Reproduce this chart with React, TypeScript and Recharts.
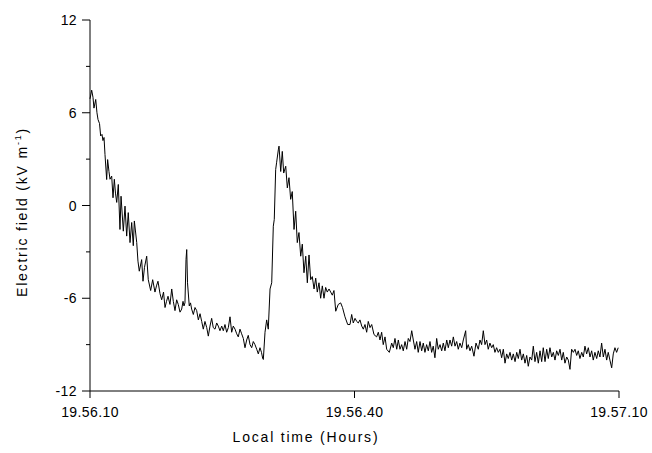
import React from 'react';
import { LineChart, Line, XAxis, YAxis } from 'recharts';

// Seconds after 19.56.10 local time
const seconds = [
  0, 0.19, 0.34, 0.45, 0.65, 0.79, 0.91, 1.08, 1.21, 1.36, 1.47, 1.59, 1.7, 1.89, 2.0, 2.15, 2.27, 2.46, 2.61, 2.76,
  2.89, 3.03, 3.21, 3.4, 3.52, 3.78, 3.97, 4.16, 4.34, 4.54, 4.73, 4.91, 5.03, 5.3, 5.44, 5.59, 5.86, 6.01, 6.18, 6.43,
  6.61, 6.88, 7.11, 7.37, 7.54, 7.71, 7.94, 8.13, 8.34, 8.51, 8.68, 8.85, 9.07, 9.27, 9.45, 9.64, 9.83, 10.01, 10.21, 10.4,
  10.55, 10.66, 10.77, 10.89, 10.97, 11.06, 11.26, 11.4, 11.53, 11.72, 11.91, 12.1, 12.29, 12.48, 12.67, 12.85, 13.04, 13.24, 13.42, 13.61,
  13.8, 13.98, 14.18, 14.37, 14.55, 14.74, 14.94, 15.12, 15.31, 15.5, 15.69, 15.88, 16.07, 16.25, 16.45, 16.64, 16.82, 17.01, 17.2, 17.39,
  17.58, 17.77, 17.95, 18.15, 18.34, 18.52, 18.71, 18.91, 19.09, 19.28, 19.45, 19.59, 19.66, 19.85, 20.04, 20.22, 20.42, 20.61, 20.79, 20.9,
  21.06, 21.17, 21.36, 21.44, 21.63, 21.81, 21.97, 22.2, 22.38, 22.57, 22.76, 22.94, 23.14, 23.33, 23.51, 23.7, 23.9, 24.08, 24.27, 24.47,
  24.65, 24.84, 25.03, 25.21, 25.41, 25.6, 25.78, 25.97, 26.16, 26.35, 26.54, 26.73, 26.91, 27.11, 27.3, 27.48, 27.67, 27.87, 28.16, 28.43,
  28.64, 28.92, 29.23, 29.49, 29.68, 29.86, 30.06, 30.25, 30.43, 30.62, 30.82, 31.0, 31.19, 31.38, 31.56, 31.76, 31.95, 32.21, 32.51, 32.7,
  32.89, 33.08, 33.26, 33.46, 33.65, 33.95, 34.22, 34.4, 34.59, 34.79, 34.97, 35.16, 35.35, 35.53, 35.73, 35.92, 36.1, 36.29, 36.49, 36.67,
  36.86, 37.05, 37.23, 37.43, 37.62, 37.8, 37.99, 38.18, 38.37, 38.56, 38.75, 38.93, 39.12, 39.32, 39.5, 39.7, 39.89, 40.07, 40.26, 40.46,
  40.64, 40.83, 41.02, 41.21, 41.4, 41.59, 41.77, 41.96, 42.16, 42.34, 42.61, 42.72, 42.9, 43.1, 43.29, 43.55, 43.78, 44.04, 44.23, 44.42,
  44.61, 44.8, 44.99, 45.17, 45.36, 45.56, 45.74, 45.93, 46.12, 46.31, 46.5, 46.69, 46.88, 47.07, 47.26, 47.44, 47.64, 47.83, 48.01, 48.21,
  48.4, 48.58, 48.77, 48.96, 49.15, 49.34, 49.53, 49.71, 49.9, 50.1, 50.28, 50.47, 50.66, 50.85, 51.04, 51.23, 51.41, 51.61, 51.8, 51.98,
  52.17, 52.37, 52.55, 52.74, 52.93, 53.12, 53.31, 53.5, 53.68, 53.87, 54.07, 54.25, 54.44, 54.63, 54.82, 55.01, 55.2, 55.38, 55.57, 55.77,
  55.95, 56.14, 56.33, 56.52, 56.71, 56.9, 57.08, 57.27, 57.47, 57.65, 57.84, 58.03, 58.22, 58.41, 58.6, 58.78, 58.97, 59.17, 59.35, 59.54,
  59.73, 59.91,
];

// Electric field, kV/m
const field = [
  6.9, 7.46, 7.0, 6.3, 6.86, 6.0, 5.56, 5.3, 4.5, 4.6, 4.2, 4.4, 3.3, 1.68, 2.97, 2.2, 1.7, 1.9, 0.5, 1.7,
  0.8, 0.2, 1.36, -1.55, 0.6, -1.66, -0.04, -1.98, -0.46, -2.4, -1.1, -2.6, -1.0, -2.4, -3.6, -4.25, -3.5, -4.9, -4.0, -3.28,
  -4.8, -5.5, -4.8, -5.6, -5.2, -4.9, -5.7, -6.1, -5.6, -6.6, -6.2, -5.87, -6.4, -5.4, -6.2, -6.8, -6.1, -6.4, -6.9, -6.7,
  -6.2, -6.5, -6.3, -3.5, -2.85, -5.0, -6.5, -6.3, -6.7, -7.05, -6.6, -6.8, -7.4, -7.0, -7.5, -8.0, -7.5, -7.9, -8.45, -7.8,
  -7.3, -7.9, -8.0, -7.6, -7.8, -8.1, -7.8, -8.1, -7.7, -8.2, -7.9, -7.2, -8.2, -7.8, -8.0, -8.3, -8.5, -8.0, -8.3, -8.6,
  -9.2, -8.7, -8.4, -9.0, -9.2, -8.8, -9.0, -9.3, -9.6, -9.2, -9.5, -9.9, -9.96, -8.2, -7.4, -8.0, -5.4, -5.0, -1.34, -0.9,
  2.33, 2.8, 3.6, 3.84, 2.2, 3.5, 2.1, 2.54, 1.14, 1.8, 0.4, 0.9, -1.55, -0.37, -2.4, -1.75, -3.28, -2.5, -4.35, -3.28,
  -5.0, -3.2, -4.8, -4.6, -5.4, -4.7, -5.6, -5.0, -6.0, -5.2, -6.0, -5.3, -5.6, -5.4, -5.6, -5.8, -5.5, -6.84, -6.4, -6.3,
  -6.6, -7.2, -7.7, -7.7, -7.05, -7.6, -7.3, -7.5, -7.6, -7.4, -7.8, -8.0, -7.7, -8.2, -7.5, -7.9, -7.7, -8.35, -8.5, -8.2,
  -8.7, -8.2, -9.0, -8.5, -9.3, -9.5, -8.9, -9.2, -8.6, -9.3, -8.7, -9.3, -9.0, -9.4, -8.8, -9.3, -8.6, -8.8, -8.1, -8.7,
  -9.3, -8.8, -9.5, -8.8, -9.4, -8.9, -9.5, -9.0, -9.4, -8.8, -9.5, -9.1, -9.85, -8.6, -9.3, -9.0, -9.4, -8.9, -9.4, -8.7,
  -9.2, -8.7, -9.1, -8.5, -9.1, -8.8, -9.3, -8.9, -9.2, -8.7, -8.1, -9.3, -9.0, -9.4, -9.1, -9.75, -8.9, -9.3, -8.7, -9.0,
  -8.1, -9.0, -8.7, -9.3, -8.9, -9.2, -9.0, -9.5, -9.2, -9.5, -9.3, -9.85, -9.3, -10.2, -9.6, -9.9, -9.5, -10.0, -9.6, -10.1,
  -9.5, -9.9, -9.3, -10.0, -9.6, -10.2, -9.7, -10.4, -9.8, -10.0, -9.1, -10.1, -9.5, -10.2, -9.4, -10.1, -9.2, -10.1, -9.3, -9.9,
  -9.2, -9.8, -9.5, -10.0, -9.4, -9.7, -9.3, -10.0, -9.5, -10.2, -9.8, -10.0, -10.6, -9.3, -9.5, -9.3, -9.7, -9.4, -9.9, -9.5,
  -9.8, -9.1, -9.6, -9.2, -9.8, -9.4, -10.0, -9.5, -9.9, -9.4, -9.8, -8.9, -9.8, -9.3, -10.0, -9.5, -10.0, -10.5, -9.6, -9.2,
  -9.5, -9.2,
];

const xTicks = [0, 30, 60];
const xTickLabels = ['19.56.10', '19.56.40', '19.57.10'];
const yTicks = [-12, -9, -6, -3, 0, 3, 6, 9, 12];
const yLabelled = [-12, -6, 0, 6, 12];

const data = seconds.map((t, i) => ({ t, e: field[i] }));

const FONT = '"Liberation Sans", Arial, sans-serif';

const YTick = ({ x, y, payload }: any) => {
  const major = yLabelled.includes(payload.value);
  return (
    <g>
      <line x1={x - (major ? 8 : 4)} x2={x} y1={y} y2={y} stroke="#000" />
      {major && (
        <text x={x - 13} y={y} dy={5} textAnchor="end" fontSize={14} fontFamily={FONT} fill="#000" letterSpacing={0.4}>
          {payload.value}
        </text>
      )}
    </g>
  );
};

const XTick = ({ x, y, payload, index }: any) => (
  <g>
    <line x1={x} x2={x} y1={y} y2={y + 7} stroke="#000" />
    <text x={x} y={y + 26} textAnchor="middle" fontSize={14} fontFamily={FONT} fill="#000" letterSpacing={0.4}>
      {xTickLabels[index]}
    </text>
  </g>
);

const App: React.FC = () => (
  <div style={{ position: 'absolute', left: 0, top: 0, background: '#fff' }}>
    <LineChart width={652} height={453} data={data} margin={{ top: 20, right: 33, bottom: 32, left: 0 }}>
      <XAxis
        dataKey="t"
        type="number"
        domain={[0, 60]}
        ticks={xTicks}
        tick={<XTick />}
        tickLine={false}
        tickSize={0}
        tickMargin={0}
        height={30}
        axisLine={{ stroke: '#000' }}
        label={{
          content: () => (
            <text x={306} y={442} textAnchor="middle" fontSize={14} fontFamily={FONT} fill="#000" letterSpacing={1.8}>
              Local time (Hours)
            </text>
          ),
        }}
      />
      <YAxis
        type="number"
        domain={[-12, 12]}
        ticks={yTicks}
        tick={<YTick />}
        tickLine={false}
        tickSize={0}
        tickMargin={0}
        width={90}
        axisLine={{ stroke: '#000' }}
        label={{
          content: () => (
            <text
              transform="translate(27,212) rotate(-90)"
              textAnchor="middle"
              fontSize={14}
              fontFamily={FONT}
              fill="#000"
              letterSpacing={1.8}
            >
              Electric field (kV m
              <tspan fontSize={9} dy={-6}>-1</tspan>
              <tspan dy={6}>)</tspan>
            </text>
          ),
        }}
      />
      <Line
        type="linear"
        dataKey="e"
        stroke="#000"
        strokeWidth={1}
        dot={false}
        isAnimationActive={false}
      />
    </LineChart>
  </div>
);

export default App;
